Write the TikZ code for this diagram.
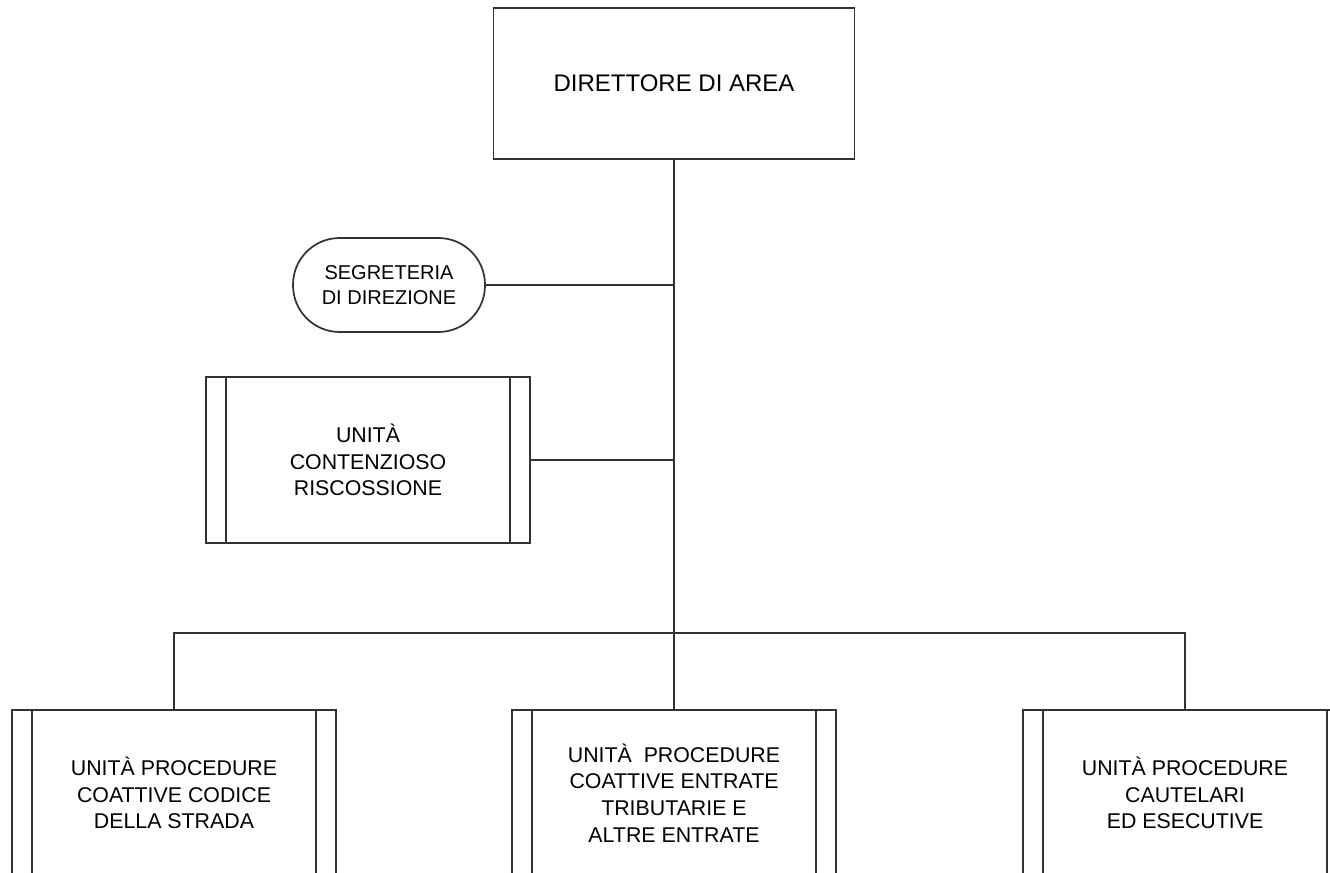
\documentclass[tikz,border=0pt]{standalone}
\usepackage{fontspec}
\setmainfont{Liberation Sans}
\usepackage{tikz}
\usetikzlibrary{positioning}
\usetikzlibrary{calc}

\begin{document}
\begin{tikzpicture}[x=0.75pt,y=-0.75pt,line width=1.3pt,
  ln/.style={draw=black!80},
  headbox/.style={ln,shape=rectangle,minimum width=270.75pt,minimum height=113.25pt,
    font=\fontsize{18}{20}\selectfont},
  staffbox/.style={ln,shape=rectangle,rounded corners=35pt,minimum width=144pt,
    minimum height=70.5pt,align=center,font=\fontsize{15}{18.5}\selectfont},
  unitbox/.style={ln,shape=rectangle,minimum width=243pt,minimum height=124.5pt,
    align=center,font=\fontsize{16}{20}\selectfont,
    path picture={
      \draw [ln]([xshift=15pt]path picture bounding box.north west)
        -- ([xshift=15pt]path picture bounding box.south west);
      \draw [ln]([xshift=-15pt]path picture bounding box.north east)
        -- ([xshift=-15pt]path picture bounding box.south east);}}]
\useasboundingbox (0,0) rectangle (1330,873);
\clip (0,0) rectangle (1330,873);
\path
(674,83.5) node [headbox](dir) {DIRETTORE DI AREA}
(389,285) node [staffbox](seg) {SEGRETERIA\\DI DIREZIONE}
(368,460) node [unitbox](cont) {UNITÀ\\CONTENZIOSO\\RISCOSSIONE}
(174,793) node [unitbox](ucds) {UNITÀ PROCEDURE\\COATTIVE CODICE\\DELLA STRADA}
(674,793) node [unitbox](ucet) {UNITÀ~~PROCEDURE\\COATTIVE ENTRATE\\TRIBUTARIE E\\ALTRE ENTRATE}
(1185,793) node [unitbox](ucee) {UNITÀ PROCEDURE\\CAUTELARI\\ED ESECUTIVE};
\coordinate (bus) at (674,633);
\draw [ln](dir.south) --(ucet.north);
\draw [ln](seg.east) --(seg.east -| dir.south);
\draw [ln](cont.east) --(cont.east -| dir.south);
\draw [ln](ucds.north) |-(bus) -|(ucee.north);

\end{tikzpicture}
\end{document}
